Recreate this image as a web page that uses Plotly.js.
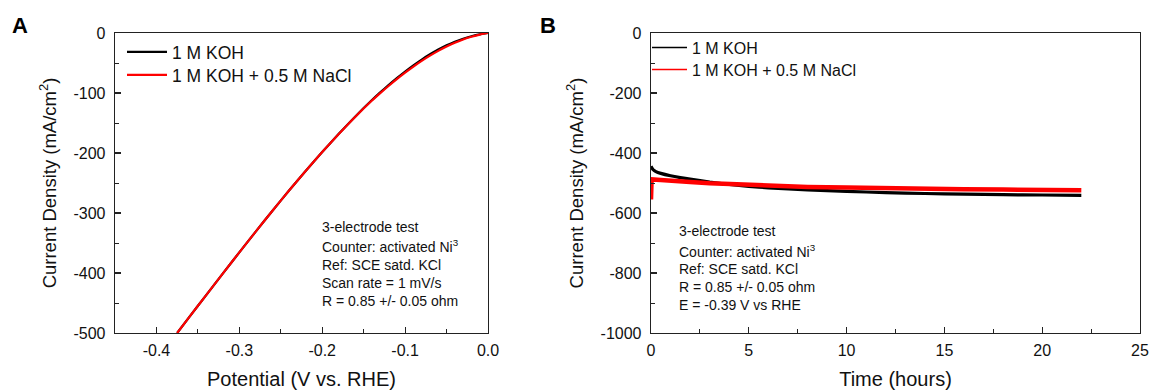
<!DOCTYPE html>
<html>
<head>
<meta charset="utf-8">
<script src="https://cdn.plot.ly/plotly-3.0.1.min.js"></script>
<style>html,body{margin:0;padding:0;background:#fff;}#chart{width:1153px;height:392px;}</style>
</head>
<body>
<div id="chart"></div>
<script>
// Panel A: LSV polarization curves
const potential = [0.0, -0.01, -0.02, -0.03, -0.04, -0.05, -0.06, -0.07, -0.08, -0.09, -0.10, -0.11, -0.12, -0.13, -0.14, -0.16, -0.18, -0.20, -0.22, -0.24, -0.26, -0.28, -0.30, -0.32, -0.34, -0.36, -0.375];
const currentKOH = [0, -2.3, -5.5, -9.5, -14.5, -20.5, -27.5, -35.5, -44.3, -53.9, -64.2, -75.2, -86.8, -99, -111.8, -139, -168, -198.4, -230, -262.6, -296.2, -330.6, -365.6, -401, -436.8, -472.8, -500];
const currentKOHNaCl = [0, -2.6, -6.3, -10.8, -16.3, -22.6, -29.8, -37.8, -46.5, -56, -66.2, -77, -88.3, -100.2, -112.6, -139.5, -168.3, -198.5, -230, -262.6, -296.2, -330.6, -365.6, -401, -436.8, -472.8, -500];

// Panel B: chronoamperometry
const timeKOH = [0, 0.1, 0.25, 0.5, 1, 1.5, 2, 3, 4, 5, 6, 8, 10, 12, 14, 16, 18, 20, 22];
const jKOH = [-444, -455, -462, -468, -476, -482, -487, -497, -505, -511, -516, -523, -528, -532, -535, -537, -539, -540, -541];
const timeNaCl = [0, 0.03, 0.5, 1, 2, 3, 4, 5, 6, 8, 10, 12, 14, 16, 18, 20, 22];
const jNaCl = [-555, -488, -490, -493, -497, -501, -504, -507, -509, -513, -515, -518, -520, -521, -522, -523, -524];

// Tick labels
const tickValsA_x = [-0.4, -0.3, -0.2, -0.1, 0.0];
const tickTextA_x = ['-0.4', '-0.3', '-0.2', '-0.1', '0.0'];
const tickValsA_y = [0, -100, -200, -300, -400, -500];
const tickTextA_y = ['0', '-100', '-200', '-300', '-400', '-500'];
const tickValsB_x = [0, 5, 10, 15, 20, 25];
const tickTextB_x = ['0', '5', '10', '15', '20', '25'];
const tickValsB_y = [0, -200, -400, -600, -800, -1000];
const tickTextB_y = ['0', '-200', '-400', '-600', '-800', '-1000'];

const seriesNames = ['1 M KOH', '1 M KOH + 0.5 M NaCl'];
const notesA = ['3-electrode test', 'Counter: activated Ni<sup>3</sup>', 'Ref: SCE satd. KCl', 'Scan rate = 1 mV/s', 'R = 0.85 +/- 0.05 ohm'];
const notesB = ['3-electrode test', 'Counter: activated Ni<sup>3</sup>', 'Ref: SCE satd. KCl', 'R = 0.85 +/- 0.05 ohm', 'E = -0.39 V vs RHE'];

const W = 1153, H = 392;
const px = x => x / W;
const py = y => 1 - y / H;
const FONT = 'Liberation Sans, Arial, sans-serif';

const traces = [
  {x: potential, y: currentKOH, type: 'scatter', mode: 'lines', name: seriesNames[0], line: {color: '#000', width: 2.2, shape: 'spline', smoothing: 0.6}, xaxis: 'x', yaxis: 'y', legend: 'legend'},
  {x: potential, y: currentKOHNaCl, type: 'scatter', mode: 'lines', name: seriesNames[1], line: {color: '#ff0000', width: 2.2, shape: 'spline', smoothing: 0.6}, xaxis: 'x', yaxis: 'y', legend: 'legend3'},
  {x: timeKOH, y: jKOH, type: 'scatter', mode: 'lines', name: seriesNames[0], showlegend: false, line: {color: '#000', width: 3.2, shape: 'spline', smoothing: 0.6}, xaxis: 'x2', yaxis: 'y2'},
  {x: timeNaCl, y: jNaCl, type: 'scatter', mode: 'lines', name: seriesNames[1], showlegend: false, line: {color: '#ff0000', width: 4.5}, xaxis: 'x2', yaxis: 'y2'},
  // legend entries for panel B (thin sample lines, as in the reference)
  {x: [null], y: [null], type: 'scatter', mode: 'lines', name: seriesNames[0], line: {color: '#000', width: 1.5}, xaxis: 'x2', yaxis: 'y2', legend: 'legend2'},
  {x: [null], y: [null], type: 'scatter', mode: 'lines', name: seriesNames[1], line: {color: '#ff0000', width: 1.5}, xaxis: 'x2', yaxis: 'y2', legend: 'legend4'}
];

const axisCommon = {
  showline: true, mirror: true, linecolor: '#222', linewidth: 1.3,
  ticks: 'inside', ticklen: 6, tickwidth: 1.2, tickcolor: '#222',
  showgrid: false, zeroline: false, tickmode: 'array',
  tickfont: {family: FONT, size: 16, color: '#111'},
  title: {font: {family: FONT, size: 20, color: '#111'}}
};
function ax(extra) { return Object.assign(JSON.parse(JSON.stringify(axisCommon)), extra, {title: Object.assign({}, axisCommon.title, extra.title)}); }
const minor = d => ({dtick: d, ticks: 'inside', ticklen: 4, tickwidth: 1, tickcolor: '#222'});
const yTitleFont = {family: FONT, size: 18.5, color: '#111'};

const annotations = [];
annotations.push({text: '<b>A</b>', x: px(10), y: py(25), xref: 'paper', yref: 'paper', xanchor: 'left', yanchor: 'middle', showarrow: false, font: {family: FONT, size: 22, color: '#000'}});
annotations.push({text: '<b>B</b>', x: px(538), y: py(25), xref: 'paper', yref: 'paper', xanchor: 'left', yanchor: 'middle', showarrow: false, font: {family: FONT, size: 22, color: '#000'}});
const yA = [227, 246, 264.5, 282.5, 301];
notesA.forEach((t, i) => annotations.push({text: t, x: px(320), y: py(yA[i]), xref: 'paper', yref: 'paper', xanchor: 'left', yanchor: 'middle', showarrow: false, font: {family: FONT, size: 14, color: '#111'}}));
const yB = [231, 251, 269, 287, 304.5];
notesB.forEach((t, i) => annotations.push({text: t, x: px(677), y: py(yB[i]), xref: 'paper', yref: 'paper', xanchor: 'left', yanchor: 'middle', showarrow: false, font: {family: FONT, size: 14, color: '#111'}}));

const legendBase = (x, y, w, size) => ({x: px(x), y: py(y), xanchor: 'left', yanchor: 'middle', bgcolor: 'rgba(0,0,0,0)', itemwidth: w, tracegroupgap: 0,
  font: {family: FONT, size: size, color: '#111'}});

const layout = {
  width: W, height: H,
  margin: {l: 0, r: 0, t: 0, b: 0},
  paper_bgcolor: '#fff', plot_bgcolor: '#fff',
  showlegend: true,
  xaxis: ax({domain: [px(115), px(488)], range: [-0.45, 0], tickvals: tickValsA_x, ticktext: tickTextA_x, ticklabelstandoff: 2,
    minor: minor(0.05), anchor: 'y', title: {text: 'Potential (V vs. RHE)', standoff: 14}}),
  yaxis: ax({domain: [py(333), py(33)], range: [-500, 0], tickvals: tickValsA_y, ticktext: tickTextA_y, ticklabelstandoff: 5,
    minor: minor(50), anchor: 'x', title: {text: 'Current Density (mA/cm<sup>2</sup>)', standoff: 12, font: yTitleFont}}),
  xaxis2: ax({domain: [px(651), px(1140)], range: [0, 25], tickvals: tickValsB_x, ticktext: tickTextB_x, ticklabelstandoff: 2,
    minor: minor(2.5), anchor: 'y2', title: {text: 'Time (hours)', standoff: 14}}),
  yaxis2: ax({domain: [py(333), py(33)], range: [-1000, 0], tickvals: tickValsB_y, ticktext: tickTextB_y, ticklabelstandoff: 5,
    minor: minor(100), anchor: 'x2', title: {text: 'Current Density (mA/cm<sup>2</sup>)', standoff: 12, font: yTitleFont}}),
  legend: legendBase(122, 52, 40, 17.5),
  legend3: legendBase(122, 75, 40, 17.5),
  legend2: legendBase(647, 47.5, 35, 16),
  legend4: legendBase(647, 69.5, 35, 16),
  annotations: annotations
};

Plotly.newPlot('chart', traces, layout, {displayModeBar: false, staticPlot: true});
</script>
</body>
</html>
